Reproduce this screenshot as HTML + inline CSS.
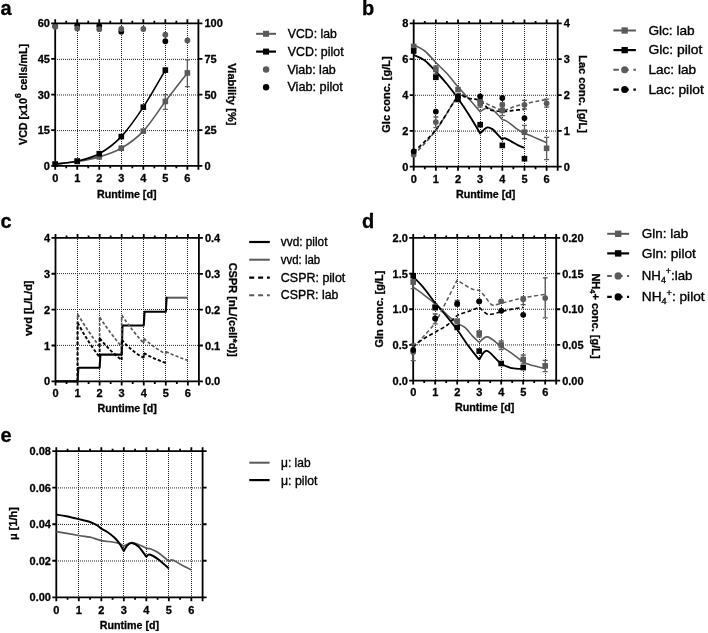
<!DOCTYPE html>
<html><head><meta charset="utf-8"><style>
html,body{margin:0;padding:0;background:#fff;}
body{width:708px;height:633px;overflow:hidden;font-family:"Liberation Sans", sans-serif;}
svg{display:block;filter:grayscale(1) blur(0.35px);}
</style></head><body>
<svg width="708" height="633" viewBox="0 0 708 633" font-family='"Liberation Sans", sans-serif'><path d="M77.5,23V165.8M99.5,23V165.8M121.5,23V165.8M143.5,23V165.8M165.5,23V165.8M187.5,23V165.8M55,130.62H198.4M55,95H198.4M55,59.38H198.4" stroke="#222" stroke-width="1" stroke-dasharray="1 1" fill="none"/>
<path d="M55.2,23.3H198.4M55.2,165.8H198.4M55.2,23.3V165.8M198.4,23.3V165.8M55.2,165.8v4M55.2,23.3v-4M66.22,165.8v2.5M66.22,23.3v-2.5M77.23,165.8v4M77.23,23.3v-4M88.25,165.8v2.5M88.25,23.3v-2.5M99.26,165.8v4M99.26,23.3v-4M110.28,165.8v2.5M110.28,23.3v-2.5M121.29,165.8v4M121.29,23.3v-4M132.31,165.8v2.5M132.31,23.3v-2.5M143.32,165.8v4M143.32,23.3v-4M154.34,165.8v2.5M154.34,23.3v-2.5M165.35,165.8v4M165.35,23.3v-4M176.37,165.8v2.5M176.37,23.3v-2.5M187.38,165.8v4M187.38,23.3v-4M198.4,165.8v4M198.4,23.3v-4M55.2,165.8h-4M55.2,130.18h-4M55.2,94.55h-4M55.2,58.93h-4M55.2,23.3h-4M198.4,165.8h4M198.4,130.18h4M198.4,94.55h4M198.4,58.93h4M198.4,23.3h4" stroke="#000" stroke-width="1.8" fill="none" stroke-linecap="butt"/>
<text x="49.9" y="169.8" font-size="11" font-weight="bold" text-anchor="end" fill="#000" stroke="#000" stroke-width="0.3">0</text>
<text x="49.9" y="134.18" font-size="11" font-weight="bold" text-anchor="end" fill="#000" stroke="#000" stroke-width="0.3">15</text>
<text x="49.9" y="98.55" font-size="11" font-weight="bold" text-anchor="end" fill="#000" stroke="#000" stroke-width="0.3">30</text>
<text x="49.9" y="62.93" font-size="11" font-weight="bold" text-anchor="end" fill="#000" stroke="#000" stroke-width="0.3">45</text>
<text x="49.9" y="27.3" font-size="11" font-weight="bold" text-anchor="end" fill="#000" stroke="#000" stroke-width="0.3">60</text>
<text x="204.4" y="169.8" font-size="11" font-weight="bold" text-anchor="start" fill="#000" stroke="#000" stroke-width="0.3">0</text>
<text x="204.4" y="134.18" font-size="11" font-weight="bold" text-anchor="start" fill="#000" stroke="#000" stroke-width="0.3">25</text>
<text x="204.4" y="98.55" font-size="11" font-weight="bold" text-anchor="start" fill="#000" stroke="#000" stroke-width="0.3">50</text>
<text x="204.4" y="62.93" font-size="11" font-weight="bold" text-anchor="start" fill="#000" stroke="#000" stroke-width="0.3">75</text>
<text x="204.4" y="27.3" font-size="11" font-weight="bold" text-anchor="start" fill="#000" stroke="#000" stroke-width="0.3">100</text>
<text x="55.2" y="181.9" font-size="11" font-weight="bold" text-anchor="middle" fill="#000" stroke="#000" stroke-width="0.3">0</text>
<text x="77.23" y="181.9" font-size="11" font-weight="bold" text-anchor="middle" fill="#000" stroke="#000" stroke-width="0.3">1</text>
<text x="99.26" y="181.9" font-size="11" font-weight="bold" text-anchor="middle" fill="#000" stroke="#000" stroke-width="0.3">2</text>
<text x="121.29" y="181.9" font-size="11" font-weight="bold" text-anchor="middle" fill="#000" stroke="#000" stroke-width="0.3">3</text>
<text x="143.32" y="181.9" font-size="11" font-weight="bold" text-anchor="middle" fill="#000" stroke="#000" stroke-width="0.3">4</text>
<text x="165.35" y="181.9" font-size="11" font-weight="bold" text-anchor="middle" fill="#000" stroke="#000" stroke-width="0.3">5</text>
<text x="187.38" y="181.9" font-size="11" font-weight="bold" text-anchor="middle" fill="#000" stroke="#000" stroke-width="0.3">6</text>
<text x="126.8" y="198" font-size="10.8" font-weight="bold" text-anchor="middle" fill="#000" textLength="59.5" lengthAdjust="spacingAndGlyphs" stroke="#000" stroke-width="0.3">Runtime [d]</text>
<text x="0.5" y="15" font-size="20" font-weight="bold" text-anchor="start" fill="#000" stroke="#000" stroke-width="0.3">a</text>
<text transform="translate(22.6,94.5) rotate(-90)" x="0" y="0" font-size="10.7" font-weight="bold" text-anchor="middle" dominant-baseline="central" stroke="#000" stroke-width="0.3">VCD [x10<tspan font-size="8.5" dy="-4.3">6</tspan><tspan dy="4.3"> cells/mL]</tspan></text>
<text transform="translate(231.7,94.3) rotate(90)" x="0" y="0" font-size="11" font-weight="bold" text-anchor="middle" dominant-baseline="central" stroke="#000" stroke-width="0.3">Viability [%]</text>
<path d="M55.2,164.14 C58.87,163.7 69.89,162.73 77.23,161.53 C84.57,160.32 91.92,159.11 99.26,156.89 C106.61,154.68 113.95,152.52 121.29,148.23 C128.64,143.93 135.98,138.92 143.32,131.12 C150.67,123.33 158.01,111.14 165.35,101.44 C172.7,91.74 183.71,77.69 187.38,72.94" stroke="#5a5a5a" stroke-width="1.6" fill="none" stroke-linejoin="round"/>
<path d="M55.2,164.14 C58.87,163.62 69.89,162.79 77.23,161.05 C84.57,159.31 91.92,157.76 99.26,153.69 C106.61,149.61 113.95,144.35 121.29,136.59 C128.64,128.83 135.98,118.22 143.32,107.14 C150.67,96.05 161.68,76.26 165.35,70.09" stroke="#000" stroke-width="1.6" fill="none" stroke-linejoin="round"/>
<path d="M165.35,94.55V109.28M162.85,94.55h5M162.85,109.28h5" stroke="#5a5a5a" stroke-width="1.3" fill="none"/>
<path d="M187.38,59.88V86.71M184.88,59.88h5M184.88,86.71h5" stroke="#5a5a5a" stroke-width="1.3" fill="none"/>
<rect x="52.4" y="161.34" width="5.6" height="5.6" fill="#5a5a5a"/>
<rect x="74.43" y="158.72" width="5.6" height="5.6" fill="#5a5a5a"/>
<rect x="96.46" y="154.09" width="5.6" height="5.6" fill="#5a5a5a"/>
<rect x="118.49" y="145.43" width="5.6" height="5.6" fill="#5a5a5a"/>
<rect x="140.52" y="128.32" width="5.6" height="5.6" fill="#5a5a5a"/>
<rect x="162.55" y="98.64" width="5.6" height="5.6" fill="#5a5a5a"/>
<rect x="184.58" y="70.14" width="5.6" height="5.6" fill="#5a5a5a"/>
<rect x="52.4" y="161.34" width="5.6" height="5.6" fill="#000"/>
<rect x="74.43" y="158.25" width="5.6" height="5.6" fill="#000"/>
<rect x="96.46" y="150.89" width="5.6" height="5.6" fill="#000"/>
<rect x="118.49" y="133.79" width="5.6" height="5.6" fill="#000"/>
<rect x="140.52" y="104.34" width="5.6" height="5.6" fill="#000"/>
<rect x="162.55" y="67.29" width="5.6" height="5.6" fill="#000"/>
<circle cx="55.2" cy="26.15" r="2.9" fill="#000"/>
<circle cx="77.23" cy="25.3" r="2.9" fill="#000"/>
<circle cx="99.26" cy="26.01" r="2.9" fill="#000"/>
<circle cx="121.29" cy="31.71" r="2.9" fill="#000"/>
<circle cx="165.35" cy="41.25" r="2.9" fill="#000"/>
<circle cx="55.2" cy="26.86" r="2.9" fill="#5a5a5a"/>
<circle cx="77.23" cy="28.43" r="2.9" fill="#5a5a5a"/>
<circle cx="99.26" cy="29.14" r="2.9" fill="#5a5a5a"/>
<circle cx="121.29" cy="29" r="2.9" fill="#5a5a5a"/>
<circle cx="143.32" cy="29" r="2.9" fill="#5a5a5a"/>
<circle cx="165.35" cy="34.7" r="2.9" fill="#5a5a5a"/>
<circle cx="187.38" cy="40.4" r="2.9" fill="#5a5a5a"/>
<path d="M256.1,33.8H276" stroke="#5a5a5a" stroke-width="2" fill="none" stroke-linejoin="round"/>
<rect x="263.05" y="30.8" width="6" height="6" fill="#5a5a5a"/>
<text x="287.8" y="38.3" font-size="12.4" font-weight="normal" text-anchor="start" fill="#000" textLength="49" lengthAdjust="spacingAndGlyphs" stroke="#000" stroke-width="0.35">VCD: lab</text>
<path d="M256.1,51.6H276" stroke="#000" stroke-width="2.2" fill="none" stroke-linejoin="round"/>
<rect x="263.05" y="48.6" width="6" height="6" fill="#000"/>
<text x="287.8" y="55.8" font-size="12.4" font-weight="normal" text-anchor="start" fill="#000" textLength="55.8" lengthAdjust="spacingAndGlyphs" stroke="#000" stroke-width="0.35">VCD: pilot</text>
<circle cx="266.1" cy="69.5" r="3.2" fill="#5a5a5a"/>
<circle cx="266.1" cy="87.2" r="3.2" fill="#000"/>
<text x="287.4" y="73.9" font-size="12.4" font-weight="normal" text-anchor="start" fill="#000" textLength="48.4" lengthAdjust="spacingAndGlyphs" stroke="#000" stroke-width="0.35">Viab: lab</text>
<text x="287.4" y="91.4" font-size="12.4" font-weight="normal" text-anchor="start" fill="#000" textLength="55.5" lengthAdjust="spacingAndGlyphs" stroke="#000" stroke-width="0.35">Viab: pilot</text>
<path d="M435.5,23V166.7M458.5,23V166.7M480.5,23V166.7M502.5,23V166.7M524.5,23V166.7M546.5,23V166.7M413,131.07H557.7M413,95.25H557.7M413,59.42H557.7" stroke="#222" stroke-width="1" stroke-dasharray="1 1" fill="none"/>
<path d="M413.7,23.4H557.7M413.7,166.7H557.7M413.7,23.4V166.7M557.7,23.4V166.7M413.7,166.7v4M413.7,23.4v-4M424.78,166.7v2.5M424.78,23.4v-2.5M435.85,166.7v4M435.85,23.4v-4M446.93,166.7v2.5M446.93,23.4v-2.5M458.01,166.7v4M458.01,23.4v-4M469.08,166.7v2.5M469.08,23.4v-2.5M480.16,166.7v4M480.16,23.4v-4M491.24,166.7v2.5M491.24,23.4v-2.5M502.32,166.7v4M502.32,23.4v-4M513.39,166.7v2.5M513.39,23.4v-2.5M524.47,166.7v4M524.47,23.4v-4M535.55,166.7v2.5M535.55,23.4v-2.5M546.62,166.7v4M546.62,23.4v-4M557.7,166.7v4M557.7,23.4v-4M413.7,166.7h-4M413.7,130.88h-4M413.7,95.05h-4M413.7,59.22h-4M413.7,23.4h-4M557.7,166.7h4M557.7,130.88h4M557.7,95.05h4M557.7,59.22h4M557.7,23.4h4" stroke="#000" stroke-width="1.8" fill="none" stroke-linecap="butt"/>
<text x="408.4" y="170.7" font-size="11" font-weight="bold" text-anchor="end" fill="#000" stroke="#000" stroke-width="0.3">0</text>
<text x="408.4" y="134.88" font-size="11" font-weight="bold" text-anchor="end" fill="#000" stroke="#000" stroke-width="0.3">2</text>
<text x="408.4" y="99.05" font-size="11" font-weight="bold" text-anchor="end" fill="#000" stroke="#000" stroke-width="0.3">4</text>
<text x="408.4" y="63.22" font-size="11" font-weight="bold" text-anchor="end" fill="#000" stroke="#000" stroke-width="0.3">6</text>
<text x="408.4" y="27.4" font-size="11" font-weight="bold" text-anchor="end" fill="#000" stroke="#000" stroke-width="0.3">8</text>
<text x="563.7" y="170.7" font-size="11" font-weight="bold" text-anchor="start" fill="#000" stroke="#000" stroke-width="0.3">0</text>
<text x="563.7" y="134.88" font-size="11" font-weight="bold" text-anchor="start" fill="#000" stroke="#000" stroke-width="0.3">1</text>
<text x="563.7" y="99.05" font-size="11" font-weight="bold" text-anchor="start" fill="#000" stroke="#000" stroke-width="0.3">2</text>
<text x="563.7" y="63.22" font-size="11" font-weight="bold" text-anchor="start" fill="#000" stroke="#000" stroke-width="0.3">3</text>
<text x="563.7" y="27.4" font-size="11" font-weight="bold" text-anchor="start" fill="#000" stroke="#000" stroke-width="0.3">4</text>
<text x="413.7" y="183.3" font-size="11" font-weight="bold" text-anchor="middle" fill="#000" stroke="#000" stroke-width="0.3">0</text>
<text x="435.85" y="183.3" font-size="11" font-weight="bold" text-anchor="middle" fill="#000" stroke="#000" stroke-width="0.3">1</text>
<text x="458.01" y="183.3" font-size="11" font-weight="bold" text-anchor="middle" fill="#000" stroke="#000" stroke-width="0.3">2</text>
<text x="480.16" y="183.3" font-size="11" font-weight="bold" text-anchor="middle" fill="#000" stroke="#000" stroke-width="0.3">3</text>
<text x="502.32" y="183.3" font-size="11" font-weight="bold" text-anchor="middle" fill="#000" stroke="#000" stroke-width="0.3">4</text>
<text x="524.47" y="183.3" font-size="11" font-weight="bold" text-anchor="middle" fill="#000" stroke="#000" stroke-width="0.3">5</text>
<text x="546.62" y="183.3" font-size="11" font-weight="bold" text-anchor="middle" fill="#000" stroke="#000" stroke-width="0.3">6</text>
<text x="485.7" y="198.1" font-size="10.8" font-weight="bold" text-anchor="middle" fill="#000" textLength="59.5" lengthAdjust="spacingAndGlyphs" stroke="#000" stroke-width="0.3">Runtime [d]</text>
<text x="362" y="15" font-size="20" font-weight="bold" text-anchor="start" fill="#000" stroke="#000" stroke-width="0.3">b</text>
<text transform="translate(386.1,94.5) rotate(-90)" x="0" y="0" font-size="11" font-weight="bold" text-anchor="middle" dominant-baseline="central" stroke="#000" stroke-width="0.3">Glc conc. [g/L]</text>
<text transform="translate(582.8,94) rotate(90)" x="0" y="0" font-size="11" font-weight="bold" text-anchor="middle" dominant-baseline="central" stroke="#000" stroke-width="0.3">Lac conc.  [g/L]</text>
<path d="M413.7,45.1 C415.55,46.08 421.08,48.1 424.78,51 C428.47,53.9 432.16,58.75 435.85,62.5 C439.55,66.25 443.24,69.45 446.93,73.5 C450.62,77.55 454.32,82.55 458.01,86.8 C461.7,91.05 465.39,94.85 469.08,99 C472.78,103.15 478.32,109.58 480.16,111.7L480.16,111.7 C481.16,111.13 484.11,108.65 486.14,108.3 C488.17,107.95 490.46,108.6 492.35,109.6 C494.23,110.6 495.78,112.65 497.44,114.3 C499.1,115.95 501.5,118.63 502.32,119.5L502.32,119.5 C502.94,119.73 504.6,120.1 506.08,120.9 C507.56,121.7 509.44,123 511.18,124.3 C512.91,125.6 514.28,127.12 516.49,128.7 C518.71,130.28 523.14,132.95 524.47,133.8L524.47,133.8 C525.21,134.02 525.21,133.62 528.9,135.1 C532.59,136.58 543.67,141.43 546.62,142.7" stroke="#5a5a5a" stroke-width="1.6" fill="none" stroke-linejoin="round"/>
<path d="M413.7,54.9 C415.55,55.83 421.08,57.73 424.78,60.5 C428.47,63.27 432.16,67.58 435.85,71.5 C439.55,75.42 443.24,79.5 446.93,84 C450.62,88.5 454.32,93.33 458.01,98.5 C461.7,103.67 465.39,109.18 469.08,115 C472.78,120.82 478.32,130.33 480.16,133.4L480.16,133.4 C481.27,132.43 484.78,128.32 486.81,127.6 C488.84,126.88 490.57,127.98 492.35,129.1 C494.12,130.22 495.78,132.57 497.44,134.3 C499.1,136.03 501.5,138.63 502.32,139.5L502.32,139.5 C502.76,139.28 503.5,137.9 504.97,138.2 C506.45,138.5 509.04,140.13 511.18,141.3 C513.32,142.47 515.61,144.08 517.82,145.2 C520.04,146.32 523.36,147.53 524.47,148" stroke="#000" stroke-width="1.9" fill="none" stroke-linejoin="round"/>
<path d="M413.7,155 C417.39,150.92 428.47,140.2 435.85,130.5 C443.24,120.8 452.47,102.17 458.01,96.8 C463.55,91.43 465.39,97.68 469.08,98.3 C472.78,98.92 476.47,99.22 480.16,100.5 C483.85,101.78 487.55,104.37 491.24,106 C494.93,107.63 499.36,109.85 502.32,110.3 C505.27,110.75 506.75,109.4 508.96,108.7 C511.18,108 513.02,106.88 515.61,106.1 C518.19,105.32 521.15,104.77 524.47,104 C527.79,103.23 531.85,102.25 535.55,101.5 C539.24,100.75 544.78,99.83 546.62,99.5" stroke="#5a5a5a" stroke-width="1.6" fill="none" stroke-dasharray="4 2.5" stroke-linejoin="round"/>
<path d="M413.7,152 C417.39,148.3 428.47,139.13 435.85,129.8 C443.24,120.47 453.39,101.58 458.01,96 C462.62,90.42 461.7,95.88 463.55,96.3 C465.39,96.72 467.24,98.05 469.08,98.5 C470.93,98.95 472.78,98.58 474.62,99 C476.47,99.42 478.5,100 480.16,101 C481.82,102 483.12,103.6 484.59,105 C486.07,106.4 487.18,108.42 489.02,109.4 C490.87,110.38 492.72,110.58 495.67,110.9 C498.62,111.22 503.79,111.38 506.75,111.3 C509.7,111.22 510.44,110.7 513.39,110.4 C516.35,110.1 522.62,109.65 524.47,109.5" stroke="#000" stroke-width="1.7" fill="none" stroke-dasharray="4 2.5" stroke-linejoin="round"/>
<path d="M435.85,117V127.7M433.35,117h5M433.35,127.7h5" stroke="#5a5a5a" stroke-width="1.3" fill="none"/>
<path d="M524.47,100.4V109M521.97,100.4h5M521.97,109h5" stroke="#5a5a5a" stroke-width="1.3" fill="none"/>
<path d="M546.62,99.2V107.2M544.12,99.2h5M544.12,107.2h5" stroke="#5a5a5a" stroke-width="1.3" fill="none"/>
<path d="M546.62,137.4V159.7M544.12,137.4h5M544.12,159.7h5" stroke="#5a5a5a" stroke-width="1.3" fill="none"/>
<path d="M524.47,125.3V138.6M521.97,125.3h5M521.97,138.6h5" stroke="#5a5a5a" stroke-width="1.3" fill="none"/>
<path d="M502.32,103V115.6M499.82,103h5M499.82,115.6h5" stroke="#5a5a5a" stroke-width="1.3" fill="none"/>
<path d="M480.16,99.5V107M477.66,99.5h5M477.66,107h5" stroke="#5a5a5a" stroke-width="1.3" fill="none"/>
<path d="M435.85,66V74M433.35,66h5M433.35,74h5" stroke="#5a5a5a" stroke-width="1.3" fill="none"/>
<circle cx="413.7" cy="154.8" r="2.9" fill="#5a5a5a"/>
<circle cx="435.85" cy="122.1" r="2.9" fill="#5a5a5a"/>
<circle cx="458.01" cy="96" r="2.9" fill="#5a5a5a"/>
<circle cx="480.16" cy="100" r="2.9" fill="#5a5a5a"/>
<circle cx="502.32" cy="104.8" r="2.9" fill="#5a5a5a"/>
<circle cx="524.47" cy="104.8" r="2.9" fill="#5a5a5a"/>
<circle cx="546.62" cy="103.3" r="2.9" fill="#5a5a5a"/>
<rect x="410.9" y="43.7" width="5.6" height="5.6" fill="#5a5a5a"/>
<rect x="433.05" y="66.7" width="5.6" height="5.6" fill="#5a5a5a"/>
<rect x="455.21" y="86.8" width="5.6" height="5.6" fill="#5a5a5a"/>
<rect x="477.36" y="100.4" width="5.6" height="5.6" fill="#5a5a5a"/>
<rect x="499.52" y="107.6" width="5.6" height="5.6" fill="#5a5a5a"/>
<rect x="521.67" y="129.4" width="5.6" height="5.6" fill="#5a5a5a"/>
<rect x="543.82" y="145.5" width="5.6" height="5.6" fill="#5a5a5a"/>
<circle cx="413.7" cy="151.4" r="2.9" fill="#000"/>
<circle cx="435.85" cy="111.6" r="2.9" fill="#000"/>
<circle cx="458.01" cy="96.5" r="2.9" fill="#000"/>
<circle cx="480.16" cy="96.3" r="2.9" fill="#000"/>
<circle cx="502.32" cy="98" r="2.9" fill="#000"/>
<circle cx="524.47" cy="118.1" r="2.9" fill="#000"/>
<rect x="410.9" y="48.2" width="5.6" height="5.6" fill="#000"/>
<rect x="433.05" y="74.5" width="5.6" height="5.6" fill="#000"/>
<rect x="455.21" y="96.7" width="5.6" height="5.6" fill="#000"/>
<rect x="477.36" y="121.9" width="5.6" height="5.6" fill="#000"/>
<rect x="499.52" y="142.6" width="5.6" height="5.6" fill="#000"/>
<rect x="521.67" y="155.9" width="5.6" height="5.6" fill="#000"/>
<path d="M613.4,30.5H635.9" stroke="#5a5a5a" stroke-width="2" fill="none" stroke-linejoin="round"/>
<rect x="621.5" y="27.35" width="6.3" height="6.3" fill="#5a5a5a"/>
<text x="648.4" y="35.3" font-size="12.6" font-weight="normal" text-anchor="start" fill="#000" textLength="46.3" lengthAdjust="spacingAndGlyphs" stroke="#000" stroke-width="0.35">Glc: lab</text>
<path d="M613.4,50.1H635.9" stroke="#000" stroke-width="2.2" fill="none" stroke-linejoin="round"/>
<rect x="621.5" y="46.95" width="6.3" height="6.3" fill="#000"/>
<text x="648.4" y="54.1" font-size="12.6" font-weight="normal" text-anchor="start" fill="#000" textLength="54" lengthAdjust="spacingAndGlyphs" stroke="#000" stroke-width="0.35">Glc: pilot</text>
<path d="M613.4,69.7h22.5" stroke="#5a5a5a" stroke-width="2" fill="none" stroke-dasharray="5.4 4.6"/>
<circle cx="624.65" cy="69.7" r="3.5" fill="#5a5a5a"/>
<text x="648.4" y="74.2" font-size="12.6" font-weight="normal" text-anchor="start" fill="#000" textLength="47.7" lengthAdjust="spacingAndGlyphs" stroke="#000" stroke-width="0.35">Lac: lab</text>
<path d="M613.4,89.6h22.5" stroke="#000" stroke-width="2.2" fill="none" stroke-dasharray="5.4 4.6"/>
<circle cx="624.65" cy="89.6" r="3.5" fill="#000"/>
<text x="648.4" y="93.8" font-size="12.6" font-weight="normal" text-anchor="start" fill="#000" textLength="55.4" lengthAdjust="spacingAndGlyphs" stroke="#000" stroke-width="0.35">Lac: pilot</text>
<path d="M77.5,237V381.4M99.5,237V381.4M121.5,237V381.4M143.5,237V381.4M165.5,237V381.4M187.5,237V381.4M55,345.38H198.9M55,309.5H198.9M55,273.62H198.9" stroke="#222" stroke-width="1" stroke-dasharray="1 1" fill="none"/>
<path d="M55.5,237.9H198.9M55.5,381.4H198.9M55.5,237.9V381.4M198.9,237.9V381.4M55.5,381.4v4M55.5,237.9v-4M66.53,381.4v2.5M66.53,237.9v-2.5M77.56,381.4v4M77.56,237.9v-4M88.59,381.4v2.5M88.59,237.9v-2.5M99.62,381.4v4M99.62,237.9v-4M110.65,381.4v2.5M110.65,237.9v-2.5M121.68,381.4v4M121.68,237.9v-4M132.72,381.4v2.5M132.72,237.9v-2.5M143.75,381.4v4M143.75,237.9v-4M154.78,381.4v2.5M154.78,237.9v-2.5M165.81,381.4v4M165.81,237.9v-4M176.84,381.4v2.5M176.84,237.9v-2.5M187.87,381.4v4M187.87,237.9v-4M198.9,381.4v4M198.9,237.9v-4M55.5,381.4h-4M55.5,345.52h-4M55.5,309.65h-4M55.5,273.77h-4M55.5,237.9h-4M198.9,381.4h4M198.9,345.52h4M198.9,309.65h4M198.9,273.78h4M198.9,237.9h4" stroke="#000" stroke-width="1.8" fill="none" stroke-linecap="butt"/>
<text x="50.2" y="385.4" font-size="11" font-weight="bold" text-anchor="end" fill="#000" stroke="#000" stroke-width="0.3">0</text>
<text x="50.2" y="349.52" font-size="11" font-weight="bold" text-anchor="end" fill="#000" stroke="#000" stroke-width="0.3">1</text>
<text x="50.2" y="313.65" font-size="11" font-weight="bold" text-anchor="end" fill="#000" stroke="#000" stroke-width="0.3">2</text>
<text x="50.2" y="277.77" font-size="11" font-weight="bold" text-anchor="end" fill="#000" stroke="#000" stroke-width="0.3">3</text>
<text x="50.2" y="241.9" font-size="11" font-weight="bold" text-anchor="end" fill="#000" stroke="#000" stroke-width="0.3">4</text>
<text x="204.9" y="385.4" font-size="11" font-weight="bold" text-anchor="start" fill="#000" stroke="#000" stroke-width="0.3">0.0</text>
<text x="204.9" y="349.52" font-size="11" font-weight="bold" text-anchor="start" fill="#000" stroke="#000" stroke-width="0.3">0.1</text>
<text x="204.9" y="313.65" font-size="11" font-weight="bold" text-anchor="start" fill="#000" stroke="#000" stroke-width="0.3">0.2</text>
<text x="204.9" y="277.78" font-size="11" font-weight="bold" text-anchor="start" fill="#000" stroke="#000" stroke-width="0.3">0.3</text>
<text x="204.9" y="241.9" font-size="11" font-weight="bold" text-anchor="start" fill="#000" stroke="#000" stroke-width="0.3">0.4</text>
<text x="55.5" y="397" font-size="11" font-weight="bold" text-anchor="middle" fill="#000" stroke="#000" stroke-width="0.3">0</text>
<text x="77.56" y="397" font-size="11" font-weight="bold" text-anchor="middle" fill="#000" stroke="#000" stroke-width="0.3">1</text>
<text x="99.62" y="397" font-size="11" font-weight="bold" text-anchor="middle" fill="#000" stroke="#000" stroke-width="0.3">2</text>
<text x="121.68" y="397" font-size="11" font-weight="bold" text-anchor="middle" fill="#000" stroke="#000" stroke-width="0.3">3</text>
<text x="143.75" y="397" font-size="11" font-weight="bold" text-anchor="middle" fill="#000" stroke="#000" stroke-width="0.3">4</text>
<text x="165.81" y="397" font-size="11" font-weight="bold" text-anchor="middle" fill="#000" stroke="#000" stroke-width="0.3">5</text>
<text x="187.87" y="397" font-size="11" font-weight="bold" text-anchor="middle" fill="#000" stroke="#000" stroke-width="0.3">6</text>
<text x="127.2" y="411.5" font-size="10.8" font-weight="bold" text-anchor="middle" fill="#000" textLength="59.5" lengthAdjust="spacingAndGlyphs" stroke="#000" stroke-width="0.3">Runtime [d]</text>
<text x="0.5" y="228.3" font-size="20" font-weight="bold" text-anchor="start" fill="#000" stroke="#000" stroke-width="0.3">c</text>
<text transform="translate(27.6,308.3) rotate(-90)" x="0" y="0" font-size="11" font-weight="bold" text-anchor="middle" dominant-baseline="central" stroke="#000" stroke-width="0.3">vvd [L/L/d]</text>
<text transform="translate(233,309.7) rotate(90)" x="0" y="0" font-size="11" font-weight="bold" text-anchor="middle" dominant-baseline="central" stroke="#000" stroke-width="0.3">CSPR [nL/(cell*d)]</text>
<path d="M165.81,297.7H187.87" stroke="#5a5a5a" stroke-width="2" fill="none" stroke-linejoin="round"/>
<path d="M55.5,381.4 L77.56,381.4 L78.36,367.8 L99.62,367.8 L100.42,354.6 L121.68,354.6 L122.48,325.5 L143.75,325.5 L144.55,311.8 L165.81,311.8 L166.61,297.7 L165.81,297.7" stroke="#000" stroke-width="2.1" fill="none" stroke-linejoin="round"/>
<path d="M77.56,381.4V314M77.56,314Q88.59,332.31 99.62,346.7M99.62,346.7V317.3M99.62,317.3Q110.65,333.76 121.68,346.7M121.68,346.7V314.9M121.68,314.9Q132.72,331.76 143.75,343M143.75,343V338.4M143.75,338.4Q154.78,348.13 165.81,354.1M165.81,354.1V351.5M165.81,351.5Q176.84,356.84 187.87,360.4" stroke="#5a5a5a" stroke-width="1.7" fill="none" stroke-dasharray="3.2 2" stroke-linejoin="round"/>
<path d="M77.56,381.4V322.5M77.56,322.5Q88.59,343.26 99.62,357.1M99.62,357.1V338.2M99.62,338.2Q110.65,351.72 121.68,360M121.68,360V339.5M121.68,339.5Q131.61,351.58 143.75,357.8M143.75,357.8V353.1M143.75,353.1Q154.78,359.24 165.81,363" stroke="#000" stroke-width="1.9" fill="none" stroke-dasharray="3.2 2" stroke-linejoin="round"/>
<path d="M249.2,242H269.8" stroke="#000" stroke-width="2.2" fill="none" stroke-linejoin="round"/>
<text x="280.8" y="245.7" font-size="11.9" font-weight="normal" text-anchor="start" fill="#000" textLength="46.7" lengthAdjust="spacingAndGlyphs" stroke="#000" stroke-width="0.35">vvd: pilot</text>
<path d="M249.2,259.7H269.8" stroke="#5a5a5a" stroke-width="2" fill="none" stroke-linejoin="round"/>
<text x="280.8" y="263.5" font-size="11.9" font-weight="normal" text-anchor="start" fill="#000" textLength="39.3" lengthAdjust="spacingAndGlyphs" stroke="#000" stroke-width="0.35">vvd: lab</text>
<path d="M249.2,277.6h20.6" stroke="#000" stroke-width="2.2" fill="none" stroke-dasharray="5 3.9"/>
<text x="280.8" y="281.7" font-size="11.9" font-weight="normal" text-anchor="start" fill="#000" textLength="64.5" lengthAdjust="spacingAndGlyphs" stroke="#000" stroke-width="0.35">CSPR: pilot</text>
<path d="M249.2,295.2h20.6" stroke="#5a5a5a" stroke-width="2" fill="none" stroke-dasharray="5 3.9"/>
<text x="280.8" y="299" font-size="11.9" font-weight="normal" text-anchor="start" fill="#000" textLength="57.6" lengthAdjust="spacingAndGlyphs" stroke="#000" stroke-width="0.35">CSPR: lab</text>
<path d="M435.5,237V380.6M457.5,237V380.6M479.5,237V380.6M501.5,237V380.6M523.5,237V380.6M545.5,237V380.6M413,344.93H556.2M413,309.25H556.2M413,273.58H556.2" stroke="#222" stroke-width="1" stroke-dasharray="1 1" fill="none"/>
<path d="M413.2,237.9H556.2M413.2,380.6H556.2M413.2,237.9V380.6M556.2,237.9V380.6M413.2,380.6v4M413.2,237.9v-4M424.2,380.6v2.5M424.2,237.9v-2.5M435.2,380.6v4M435.2,237.9v-4M446.2,380.6v2.5M446.2,237.9v-2.5M457.2,380.6v4M457.2,237.9v-4M468.2,380.6v2.5M468.2,237.9v-2.5M479.2,380.6v4M479.2,237.9v-4M490.2,380.6v2.5M490.2,237.9v-2.5M501.2,380.6v4M501.2,237.9v-4M512.2,380.6v2.5M512.2,237.9v-2.5M523.2,380.6v4M523.2,237.9v-4M534.2,380.6v2.5M534.2,237.9v-2.5M545.2,380.6v4M545.2,237.9v-4M556.2,380.6v4M556.2,237.9v-4M413.2,380.6h-4M413.2,344.93h-4M413.2,309.25h-4M413.2,273.58h-4M413.2,237.9h-4M556.2,380.6h4M556.2,344.93h4M556.2,309.25h4M556.2,273.58h4M556.2,237.9h4" stroke="#000" stroke-width="1.8" fill="none" stroke-linecap="butt"/>
<text x="407.9" y="384.6" font-size="11" font-weight="bold" text-anchor="end" fill="#000" stroke="#000" stroke-width="0.3">0.0</text>
<text x="407.9" y="348.93" font-size="11" font-weight="bold" text-anchor="end" fill="#000" stroke="#000" stroke-width="0.3">0.5</text>
<text x="407.9" y="313.25" font-size="11" font-weight="bold" text-anchor="end" fill="#000" stroke="#000" stroke-width="0.3">1.0</text>
<text x="407.9" y="277.58" font-size="11" font-weight="bold" text-anchor="end" fill="#000" stroke="#000" stroke-width="0.3">1.5</text>
<text x="407.9" y="241.9" font-size="11" font-weight="bold" text-anchor="end" fill="#000" stroke="#000" stroke-width="0.3">2.0</text>
<text x="562.2" y="384.6" font-size="11" font-weight="bold" text-anchor="start" fill="#000" stroke="#000" stroke-width="0.3">0.00</text>
<text x="562.2" y="348.93" font-size="11" font-weight="bold" text-anchor="start" fill="#000" stroke="#000" stroke-width="0.3">0.05</text>
<text x="562.2" y="313.25" font-size="11" font-weight="bold" text-anchor="start" fill="#000" stroke="#000" stroke-width="0.3">0.10</text>
<text x="562.2" y="277.58" font-size="11" font-weight="bold" text-anchor="start" fill="#000" stroke="#000" stroke-width="0.3">0.15</text>
<text x="562.2" y="241.9" font-size="11" font-weight="bold" text-anchor="start" fill="#000" stroke="#000" stroke-width="0.3">0.20</text>
<text x="413.2" y="396.2" font-size="11" font-weight="bold" text-anchor="middle" fill="#000" stroke="#000" stroke-width="0.3">0</text>
<text x="435.2" y="396.2" font-size="11" font-weight="bold" text-anchor="middle" fill="#000" stroke="#000" stroke-width="0.3">1</text>
<text x="457.2" y="396.2" font-size="11" font-weight="bold" text-anchor="middle" fill="#000" stroke="#000" stroke-width="0.3">2</text>
<text x="479.2" y="396.2" font-size="11" font-weight="bold" text-anchor="middle" fill="#000" stroke="#000" stroke-width="0.3">3</text>
<text x="501.2" y="396.2" font-size="11" font-weight="bold" text-anchor="middle" fill="#000" stroke="#000" stroke-width="0.3">4</text>
<text x="523.2" y="396.2" font-size="11" font-weight="bold" text-anchor="middle" fill="#000" stroke="#000" stroke-width="0.3">5</text>
<text x="545.2" y="396.2" font-size="11" font-weight="bold" text-anchor="middle" fill="#000" stroke="#000" stroke-width="0.3">6</text>
<text x="484.7" y="410.8" font-size="10.8" font-weight="bold" text-anchor="middle" fill="#000" textLength="59.5" lengthAdjust="spacingAndGlyphs" stroke="#000" stroke-width="0.3">Runtime [d]</text>
<text x="362" y="228" font-size="20" font-weight="bold" text-anchor="start" fill="#000" stroke="#000" stroke-width="0.3">d</text>
<text transform="translate(378.7,309) rotate(-90)" x="0" y="0" font-size="11" font-weight="bold" text-anchor="middle" dominant-baseline="central" stroke="#000" stroke-width="0.3">Gln conc. [g/L]</text>
<text transform="translate(595.5,316) rotate(90)" x="0" y="0" font-size="11" font-weight="bold" text-anchor="middle" dominant-baseline="central" stroke="#000" stroke-width="0.3">NH<tspan font-size="7.5" dy="3">4</tspan><tspan dy="-3">+ conc.  [g/L]</tspan></text>
<path d="M413.2,287.1 C414.67,288.15 418.33,290.63 422,293.4 C425.67,296.17 431.17,300.27 435.2,303.7 C439.23,307.13 442.53,310.7 446.2,314 C449.87,317.3 455.37,321.92 457.2,323.5" stroke="#5a5a5a" stroke-width="1.6" fill="none" stroke-linejoin="round"/>
<path d="M457.2,323.5 C458.48,324.15 462.33,325.3 464.9,327.4 C467.47,329.5 470.22,333.6 472.6,336.1 C474.98,338.6 478.1,341.35 479.2,342.4" stroke="#5a5a5a" stroke-width="1.6" fill="none" stroke-linejoin="round"/>
<path d="M479.2,342.4 C480.59,341.48 483.89,336.23 487.56,336.9 C491.23,337.57 497.09,343.62 501.2,346.4 C505.31,349.18 508.53,351 512.2,353.6 C515.87,356.2 519.72,360 523.2,362 C526.68,364 529.43,364.48 533.1,365.6 C536.77,366.72 543.18,368.18 545.2,368.7" stroke="#5a5a5a" stroke-width="1.6" fill="none" stroke-linejoin="round"/>
<path d="M413.2,276.8 C414.85,278.52 419.43,282.75 423.1,287.1 C426.77,291.45 431.17,297.9 435.2,302.9 C439.23,307.9 443.63,312.62 447.3,317.1 C450.97,321.58 453.72,325.05 457.2,329.8 C460.68,334.55 464.53,340.6 468.2,345.6 C471.87,350.6 477.37,357.43 479.2,359.8" stroke="#000" stroke-width="1.8" fill="none" stroke-linejoin="round"/>
<path d="M479.2,359.8 C480.48,358.3 483.23,350.13 486.9,350.8 C490.57,351.47 496.98,360.9 501.2,363.8 C505.42,366.7 508.53,367.33 512.2,368.2 C515.87,369.07 521.37,368.87 523.2,369" stroke="#000" stroke-width="1.8" fill="none" stroke-linejoin="round"/>
<path d="M413.2,347.9L435.2,323.5L457.2,280L457.2,280 C459.03,281.18 465.27,285.43 468.2,287.1 C471.13,288.77 472.97,289.47 474.8,290 C476.63,290.53 478.47,290.25 479.2,290.3L479.2,290.3 C480.12,291.25 482.68,293.63 484.7,296 C486.72,298.37 489.1,303.13 491.3,304.5 C493.5,305.87 494.42,304.88 497.9,304.2 C501.38,303.52 507.98,301.47 512.2,300.4 C516.42,299.33 517.7,298.82 523.2,297.8 C528.7,296.78 541.53,294.88 545.2,294.3" stroke="#5a5a5a" stroke-width="1.5" fill="none" stroke-dasharray="4 2.5" stroke-linejoin="round"/>
<path d="M413.2,346.4 C414.85,345.2 419.43,341.58 423.1,339.2 C426.77,336.82 431.17,334.47 435.2,332.1 C439.23,329.73 443.63,327.75 447.3,325 C450.97,322.25 453.72,317.83 457.2,315.6 C460.68,313.37 464.53,312.98 468.2,311.6 C471.87,310.22 477.37,308.02 479.2,307.3L479.2,307.3 C480.48,308.42 484.7,312.88 486.9,314 C489.1,315.12 490.02,314.38 492.4,314 C494.78,313.62 497.9,312.52 501.2,311.7 C504.5,310.88 508.53,309.82 512.2,309.1 C515.87,308.38 521.37,307.68 523.2,307.4" stroke="#000" stroke-width="1.6" fill="none" stroke-dasharray="4 2.5" stroke-linejoin="round"/>
<path d="M545.2,277.8V317.8M542.7,277.8h5M542.7,317.8h5" stroke="#5a5a5a" stroke-width="1.3" fill="none"/>
<path d="M413.2,344V360.6M410.7,344h5M410.7,360.6h5" stroke="#5a5a5a" stroke-width="1.3" fill="none"/>
<path d="M523.2,355V363.8M520.7,355h5M520.7,363.8h5" stroke="#5a5a5a" stroke-width="1.3" fill="none"/>
<path d="M545.2,360.3V371.6M542.7,360.3h5M542.7,371.6h5" stroke="#5a5a5a" stroke-width="1.3" fill="none"/>
<path d="M435.2,314V323.8M432.7,314h5M432.7,323.8h5" stroke="#5a5a5a" stroke-width="1.3" fill="none"/>
<path d="M523.2,297V304.7M520.7,297h5M520.7,304.7h5" stroke="#5a5a5a" stroke-width="1.3" fill="none"/>
<path d="M457.2,300.5V306M454.7,300.5h5M454.7,306h5" stroke="#5a5a5a" stroke-width="1.3" fill="none"/>
<path d="M413.2,280V288.7M410.7,280h5M410.7,288.7h5" stroke="#5a5a5a" stroke-width="1.3" fill="none"/>
<path d="M501.2,341V349.5M498.7,341h5M498.7,349.5h5" stroke="#5a5a5a" stroke-width="1.3" fill="none"/>
<path d="M479.2,331V337M476.7,331h5M476.7,337h5" stroke="#5a5a5a" stroke-width="1.3" fill="none"/>
<circle cx="413.2" cy="352" r="2.9" fill="#5a5a5a"/>
<circle cx="435.2" cy="318.6" r="2.9" fill="#5a5a5a"/>
<circle cx="457.2" cy="304" r="2.9" fill="#5a5a5a"/>
<circle cx="479.2" cy="301.5" r="2.9" fill="#5a5a5a"/>
<circle cx="501.2" cy="301.3" r="2.9" fill="#5a5a5a"/>
<circle cx="523.2" cy="299.2" r="2.9" fill="#5a5a5a"/>
<circle cx="545.2" cy="298.1" r="2.9" fill="#5a5a5a"/>
<rect x="410.4" y="279.3" width="5.6" height="5.6" fill="#5a5a5a"/>
<rect x="432.4" y="303.7" width="5.6" height="5.6" fill="#5a5a5a"/>
<rect x="454.4" y="318.3" width="5.6" height="5.6" fill="#5a5a5a"/>
<rect x="476.4" y="330.9" width="5.6" height="5.6" fill="#5a5a5a"/>
<rect x="498.4" y="342.2" width="5.6" height="5.6" fill="#5a5a5a"/>
<rect x="520.4" y="356.7" width="5.6" height="5.6" fill="#5a5a5a"/>
<rect x="542.4" y="363.1" width="5.6" height="5.6" fill="#5a5a5a"/>
<circle cx="413.2" cy="350" r="2.9" fill="#000"/>
<circle cx="435.2" cy="318.4" r="2.9" fill="#000"/>
<circle cx="457.2" cy="303.7" r="2.9" fill="#000"/>
<circle cx="479.2" cy="301.3" r="2.9" fill="#000"/>
<circle cx="501.2" cy="310.8" r="2.9" fill="#000"/>
<circle cx="523.2" cy="314.8" r="2.9" fill="#000"/>
<rect x="410.4" y="272.9" width="5.6" height="5.6" fill="#000"/>
<rect x="432.4" y="304.9" width="5.6" height="5.6" fill="#000"/>
<rect x="454.4" y="324.6" width="5.6" height="5.6" fill="#000"/>
<rect x="476.4" y="348.3" width="5.6" height="5.6" fill="#000"/>
<rect x="498.4" y="360.7" width="5.6" height="5.6" fill="#000"/>
<rect x="520.4" y="364.8" width="5.6" height="5.6" fill="#000"/>
<path d="M607.2,233.8H629.1" stroke="#5a5a5a" stroke-width="2" fill="none" stroke-linejoin="round"/>
<rect x="614.95" y="230.6" width="6.4" height="6.4" fill="#5a5a5a"/>
<text x="641.8" y="238.3" font-size="12.8" font-weight="normal" text-anchor="start" fill="#000" textLength="46.5" lengthAdjust="spacingAndGlyphs" stroke="#000" stroke-width="0.35">Gln: lab</text>
<path d="M607.2,253.4H629.1" stroke="#000" stroke-width="2.2" fill="none" stroke-linejoin="round"/>
<rect x="614.95" y="250.2" width="6.4" height="6.4" fill="#000"/>
<text x="641.8" y="258.1" font-size="12.8" font-weight="normal" text-anchor="start" fill="#000" textLength="54.1" lengthAdjust="spacingAndGlyphs" stroke="#000" stroke-width="0.35">Gln: pilot</text>
<path d="M607.2,275.9h21.9" stroke="#5a5a5a" stroke-width="2" fill="none" stroke-dasharray="4.6 4.5 6.3 4.5"/>
<circle cx="618.15" cy="275.9" r="3.6" fill="#5a5a5a"/>
<text x="641.8" y="279.5" font-size="12.8" font-weight="normal" text-anchor="start" fill="#000" textLength="50.6" lengthAdjust="spacingAndGlyphs" stroke="#000" stroke-width="0.35">NH<tspan font-size="8.5" dy="3">4</tspan><tspan font-size="8.5" dy="-8.2">+</tspan><tspan dy="5.2">:lab</tspan></text>
<path d="M607.2,296.9h21.9" stroke="#000" stroke-width="2.2" fill="none" stroke-dasharray="4.6 4.5 6.3 4.5"/>
<circle cx="618.15" cy="296.9" r="3.6" fill="#000"/>
<text x="641.8" y="300.9" font-size="12.8" font-weight="normal" text-anchor="start" fill="#000" textLength="62.8" lengthAdjust="spacingAndGlyphs" stroke="#000" stroke-width="0.35">NH<tspan font-size="8.5" dy="3">4</tspan><tspan font-size="8.5" dy="-8.2">+</tspan><tspan dy="5.2">: pilot</tspan></text>
<path d="M78.5,451V597.3M101.5,451V597.3M123.5,451V597.3M146.5,451V597.3M168.5,451V597.3M191.5,451V597.3M56,560.98H202.6M56,524.45H202.6M56,487.92H202.6" stroke="#222" stroke-width="1" stroke-dasharray="1 1" fill="none"/>
<path d="M56.3,451.2H202.6M56.3,597.3H202.6M56.3,451.2V597.3M202.6,451.2V597.3M56.3,597.3v4M56.3,451.2v-4M67.55,597.3v2.5M67.55,451.2v-2.5M78.81,597.3v4M78.81,451.2v-4M90.06,597.3v2.5M90.06,451.2v-2.5M101.32,597.3v4M101.32,451.2v-4M112.57,597.3v2.5M112.57,451.2v-2.5M123.82,597.3v4M123.82,451.2v-4M135.08,597.3v2.5M135.08,451.2v-2.5M146.33,597.3v4M146.33,451.2v-4M157.58,597.3v2.5M157.58,451.2v-2.5M168.84,597.3v4M168.84,451.2v-4M180.09,597.3v2.5M180.09,451.2v-2.5M191.35,597.3v4M191.35,451.2v-4M202.6,597.3v4M202.6,451.2v-4M56.3,597.3h-4M56.3,560.77h-4M56.3,524.25h-4M56.3,487.72h-4M56.3,451.2h-4M202.6,597.3h4M202.6,560.77h4M202.6,524.25h4M202.6,487.72h4M202.6,451.2h4" stroke="#000" stroke-width="1.8" fill="none" stroke-linecap="butt"/>
<text x="51" y="601.3" font-size="11" font-weight="bold" text-anchor="end" fill="#000" stroke="#000" stroke-width="0.3">0.00</text>
<text x="51" y="564.77" font-size="11" font-weight="bold" text-anchor="end" fill="#000" stroke="#000" stroke-width="0.3">0.02</text>
<text x="51" y="528.25" font-size="11" font-weight="bold" text-anchor="end" fill="#000" stroke="#000" stroke-width="0.3">0.04</text>
<text x="51" y="491.72" font-size="11" font-weight="bold" text-anchor="end" fill="#000" stroke="#000" stroke-width="0.3">0.06</text>
<text x="51" y="455.2" font-size="11" font-weight="bold" text-anchor="end" fill="#000" stroke="#000" stroke-width="0.3">0.08</text>
<text x="56.3" y="613.9" font-size="11" font-weight="bold" text-anchor="middle" fill="#000" stroke="#000" stroke-width="0.3">0</text>
<text x="78.81" y="613.9" font-size="11" font-weight="bold" text-anchor="middle" fill="#000" stroke="#000" stroke-width="0.3">1</text>
<text x="101.32" y="613.9" font-size="11" font-weight="bold" text-anchor="middle" fill="#000" stroke="#000" stroke-width="0.3">2</text>
<text x="123.82" y="613.9" font-size="11" font-weight="bold" text-anchor="middle" fill="#000" stroke="#000" stroke-width="0.3">3</text>
<text x="146.33" y="613.9" font-size="11" font-weight="bold" text-anchor="middle" fill="#000" stroke="#000" stroke-width="0.3">4</text>
<text x="168.84" y="613.9" font-size="11" font-weight="bold" text-anchor="middle" fill="#000" stroke="#000" stroke-width="0.3">5</text>
<text x="191.35" y="613.9" font-size="11" font-weight="bold" text-anchor="middle" fill="#000" stroke="#000" stroke-width="0.3">6</text>
<text x="129.45" y="628.5" font-size="10.8" font-weight="bold" text-anchor="middle" fill="#000" textLength="59.5" lengthAdjust="spacingAndGlyphs" stroke="#000" stroke-width="0.3">Runtime [d]</text>
<text x="0.5" y="441.5" font-size="20" font-weight="bold" text-anchor="start" fill="#000" stroke="#000" stroke-width="0.3">e</text>
<text transform="translate(13.1,523.5) rotate(-90)" x="0" y="0" font-size="11" font-weight="bold" text-anchor="middle" dominant-baseline="central" stroke="#000" stroke-width="0.3">μ [1/h]</text>
<path d="M56.3,531.6 C60.05,532.25 73.18,534.57 78.81,535.5 C84.43,536.43 86.31,536.35 90.06,537.2 C93.81,538.05 97.56,539.8 101.32,540.6 C105.07,541.4 109.57,541.5 112.57,542 C115.57,542.5 117.45,542.9 119.32,543.6 C121.2,544.3 123.07,545.77 123.82,546.2L123.82,546.2 C125.14,545.6 129.07,542.8 131.7,542.6 C134.33,542.4 137.14,544.07 139.58,545 C142.02,545.93 145.21,547.67 146.33,548.2L146.33,548.2 C147.08,548.33 148.96,548.33 150.83,549 C152.71,549.67 155.52,550.95 157.58,552.2 C159.65,553.45 161.34,554.95 163.21,556.5 C165.09,558.05 167.9,560.67 168.84,561.5L168.84,561.5 C169.48,561.25 170.6,559.45 172.66,560 C174.73,560.55 178.1,563.15 181.22,564.8 C184.33,566.45 189.66,569.05 191.35,569.9" stroke="#5a5a5a" stroke-width="1.7" fill="none" stroke-linejoin="round"/>
<path d="M56.3,514.6 C57.99,514.88 62.68,515.55 66.43,516.3 C70.18,517.05 74.87,518.15 78.81,519.1 C82.75,520.05 87.06,520.98 90.06,522 C93.06,523.02 94.94,524.08 96.81,525.2 C98.69,526.32 100.57,528.12 101.32,528.7L101.32,528.7 C102.44,529.33 105.82,530.95 108.07,532.5 C110.32,534.05 112.94,536.2 114.82,538 C116.7,539.8 117.82,541.13 119.32,543.3 C120.82,545.47 123.07,549.72 123.82,551L123.82,551 C124.39,550.08 125.89,546.83 127.2,545.5 C128.51,544.17 129.83,542.85 131.7,543 C133.58,543.15 136.01,544.12 138.45,546.4 C140.89,548.68 145.02,554.98 146.33,556.7L146.33,556.7 C146.89,556.35 147.83,554.25 149.71,554.6 C151.58,554.95 155.33,557.33 157.58,558.8 C159.84,560.27 161.34,561.8 163.21,563.4 C165.09,565 167.9,567.57 168.84,568.4" stroke="#000" stroke-width="2" fill="none" stroke-linejoin="round"/>
<path d="M249.3,462.7H269.6" stroke="#5a5a5a" stroke-width="2" fill="none" stroke-linejoin="round"/>
<text x="281" y="467.1" font-size="12.5" font-weight="normal" text-anchor="start" fill="#000" textLength="29.6" lengthAdjust="spacingAndGlyphs" stroke="#000" stroke-width="0.35">μ: lab</text>
<path d="M249.3,480.1H269.6" stroke="#000" stroke-width="2.2" fill="none" stroke-linejoin="round"/>
<text x="281" y="484.8" font-size="12.5" font-weight="normal" text-anchor="start" fill="#000" textLength="36.4" lengthAdjust="spacingAndGlyphs" stroke="#000" stroke-width="0.35">μ: pilot</text></svg>
</body></html>
